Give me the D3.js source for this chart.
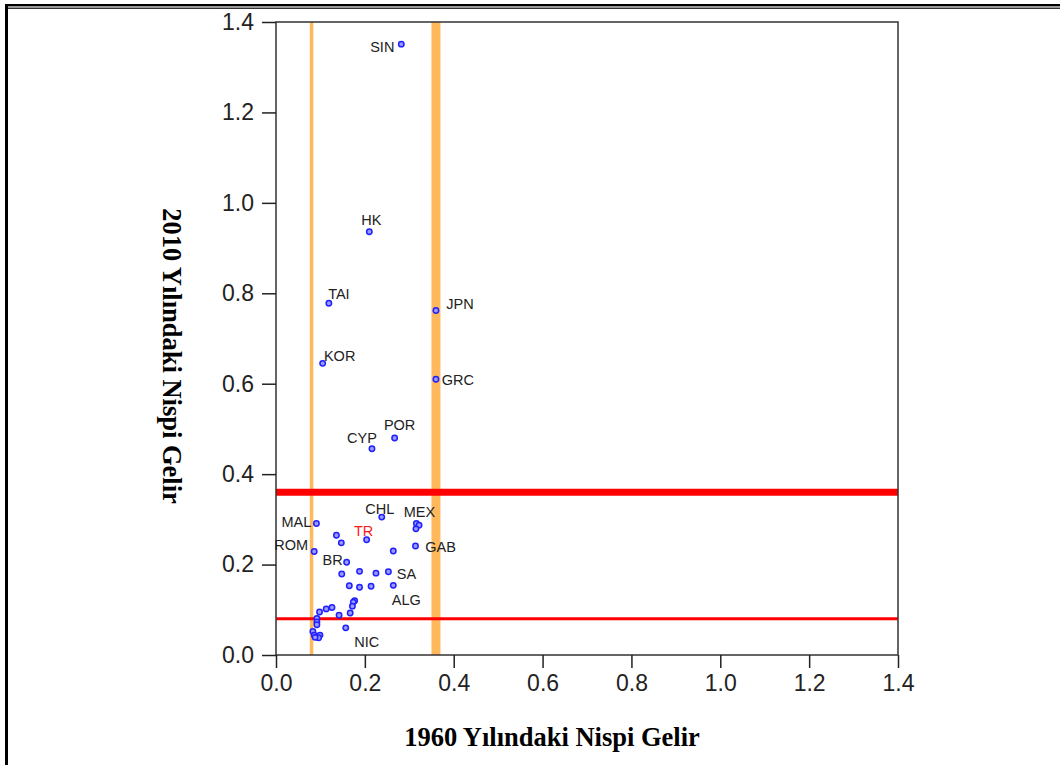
<!DOCTYPE html>
<html>
<head>
<meta charset="utf-8">
<script src="https://cdn.jsdelivr.net/npm/d3@7"></script>
<style>
  body { margin: 0; background: #fff; }
  svg { display: block; }
</style>
</head>
<body>
<svg width="1060" height="765"></svg>
<script>
// etiketler (bos = etiketsiz nokta)
const labels = [
    'SIN', 'HK', 'TAI', 'KOR', 'JPN', 'GRC', 'POR', 'CYP',
    'CHL', 'MEX', '', '', 'MAL', 'TR', 'ROM', 'GAB', 'BR', 'SA', 'ALG', 'NIC',
    '', '', '', '', '', '', '', '', '', '', '', '', '', '', '', '', '', '', '', '', '', '', ''
];
// 1960 yilindaki nispi gelir
const rel1960 = [
    0.282, 0.210, 0.119, 0.105, 0.360, 0.360, 0.267, 0.216,
    0.238, 0.316, 0.322, 0.315, 0.091, 0.204, 0.086, 0.314, 0.159, 0.253, 0.264, 0.157,
    0.136, 0.147, 0.264, 0.148, 0.188, 0.225, 0.165, 0.188, 0.214, 0.177, 0.174, 0.172,
    0.167, 0.142, 0.126, 0.113, 0.098, 0.092, 0.092, 0.092, 0.083, 0.086, 0.092, 0.099, 0.096, 0.088
];
// 2010 yilindaki nispi gelir
const rel2010 = [
    1.351, 0.936, 0.778, 0.645, 0.762, 0.610, 0.480, 0.456,
    0.305, 0.291, 0.287, 0.279, 0.291, 0.255, 0.229, 0.241, 0.205, 0.184, 0.154, 0.060,
    0.265, 0.248, 0.230, 0.179, 0.185, 0.181, 0.153, 0.150, 0.152, 0.120, 0.117, 0.108,
    0.093, 0.088, 0.105, 0.102, 0.095, 0.081, 0.073, 0.067, 0.052, 0.044, 0.040, 0.044, 0.038, 0.039
];
const tickValues = [0, 0.2, 0.4, 0.6, 0.8, 1.0, 1.2, 1.4];
const refLines = [0.08, 0.36];

// etiket kaydirmalari (piksel)
const labelOffset = {
    SIN: [-19, 3], HK: [2, -12], TAI: [10, -9], KOR: [17, -7], JPN: [24, -6],
    GRC: [22, 1], POR: [5, -13], CYP: [-10, -11], CHL: [-2, -8], MEX: [3, -11],
    MAL: [-20, -1], TR: [-3, -9], ROM: [-23, -6], GAB: [25, 1], BR: [-14, -2],
    SA: [18, 2], ALG: [13, 15], NIC: [21, 14]
};

const data = rel1960.map((v, i) => ({ x: v, y: rel2010[i], label: labels[i] || '' }));

const svg = d3.select('svg');
const plot = { left: 276, right: 898, top: 22, bottom: 655 };

const x = d3.scaleLinear().domain([0, 1.4]).range([plot.left, plot.right]);
const y = d3.scaleLinear().domain([0, 1.4]).range([plot.bottom, plot.top]);

// cerceve cizgileri
svg.append('line').attr('x1', 6.5).attr('x2', 6.5).attr('y1', 4).attr('y2', 765)
    .attr('stroke', '#000').attr('stroke-width', 3);
svg.append('line').attr('x1', 5).attr('x2', 1060).attr('y1', 5).attr('y2', 5)
    .attr('stroke', '#000').attr('stroke-width', 2);
svg.append('line').attr('x1', 8).attr('x2', 1060).attr('y1', 7).attr('y2', 7)
    .attr('stroke', '#999').attr('stroke-width', 2);
svg.append('line').attr('x1', 8).attr('x2', 1060).attr('y1', 8.5).attr('y2', 8.5)
    .attr('stroke', '#333').attr('stroke-width', 1);

// referans cizgileri
svg.selectAll('.vline').data(refLines).enter().append('line')
    .attr('x1', d => x(d)).attr('x2', d => x(d))
    .attr('y1', plot.top).attr('y2', plot.bottom)
    .attr('stroke', '#ffb95c')
    .attr('stroke-width', (d, i) => i === 0 ? 3.5 : 9);

svg.selectAll('.hline').data(refLines).enter().append('line')
    .attr('x1', plot.left).attr('x2', plot.right)
    .attr('y1', d => y(d)).attr('y2', d => y(d))
    .attr('stroke', '#ff0000')
    .attr('stroke-width', (d, i) => i === 0 ? 3 : 7);

// grafik kutusu
svg.append('rect')
    .attr('x', plot.left).attr('y', plot.top)
    .attr('width', plot.right - plot.left).attr('height', plot.bottom - plot.top)
    .attr('fill', 'none').attr('stroke', '#333').attr('stroke-width', 1.5);

// eksenler
const fmt = d3.format('.1f');
const xAxis = d3.axisBottom(x).tickValues(tickValues).tickFormat(fmt)
    .tickSizeInner(13).tickSizeOuter(0).tickPadding(7);
const yAxis = d3.axisLeft(y).tickValues(tickValues).tickFormat(fmt)
    .tickSizeInner(14).tickSizeOuter(0).tickPadding(8);

function styleAxis(g) {
    g.select('.domain').remove();
    g.selectAll('.tick line').attr('stroke', '#222').attr('stroke-width', 1.5);
    g.selectAll('.tick text')
        .attr('fill', '#222')
        .style('font-family', '"Liberation Sans", Arial, sans-serif')
        .style('font-size', '23px');
}

svg.append('g').attr('transform', `translate(0,${plot.bottom})`).call(xAxis).call(styleAxis);
svg.append('g').attr('transform', `translate(${plot.left},0)`).call(yAxis).call(styleAxis);

// noktalar
svg.append('g').selectAll('circle').data(data).enter().append('circle')
    .attr('cx', d => x(d.x))
    .attr('cy', d => y(d.y))
    .attr('r', 2.7)
    .attr('fill', '#9a9aff')
    .attr('stroke', '#2020ff')
    .attr('stroke-width', 1.5);

// ulke etiketleri
svg.append('g').selectAll('text').data(data.filter(d => d.label)).enter().append('text')
    .attr('x', d => x(d.x) + labelOffset[d.label][0])
    .attr('y', d => y(d.y) + labelOffset[d.label][1])
    .attr('text-anchor', 'middle')
    .attr('dominant-baseline', 'central')
    .attr('fill', d => d.label === 'TR' ? '#ff1a1a' : '#222')
    .style('font-family', '"Liberation Sans", Arial, sans-serif')
    .style('font-size', '14.5px')
    .text(d => d.label);

// eksen basliklari
svg.append('text')
    .attr('x', 552).attr('y', 746)
    .attr('text-anchor', 'middle')
    .style('font-family', '"Liberation Serif", "Times New Roman", serif')
    .style('font-weight', 'bold')
    .style('font-size', '26.5px')
    .text('1960 Yılındaki Nispi Gelir');

svg.append('text')
    .attr('transform', 'translate(163,356) rotate(90)')
    .attr('text-anchor', 'middle')
    .style('font-family', '"Liberation Serif", "Times New Roman", serif')
    .style('font-weight', 'bold')
    .style('font-size', '26.5px')
    .text('2010 Yılındaki Nispi Gelir');
</script>
</body>
</html>
